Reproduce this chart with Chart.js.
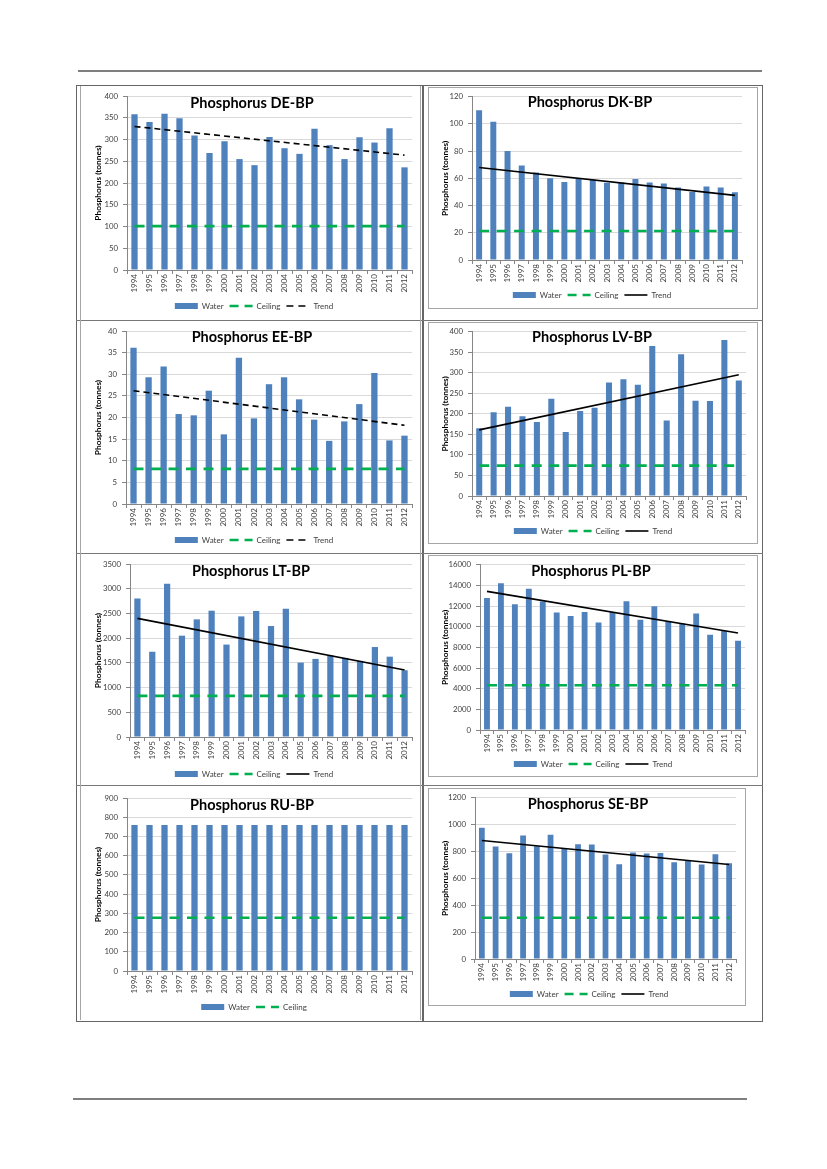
<!DOCTYPE html>
<html><head><meta charset="utf-8">
<script src="https://cdn.jsdelivr.net/npm/chart.js@4.4.1/dist/chart.umd.min.js"></script>
<style>
html,body{margin:0;padding:0;background:#fff;}
#page{position:relative;width:827px;height:1169px;overflow:hidden;font-family:Lato,"Open Sans",sans-serif;}
.ln{position:absolute;}
canvas{position:absolute;}
.ttl{position:absolute;width:220px;text-align:center;font-family:Lato,sans-serif;font-weight:bold;font-size:14.5px;color:#000;line-height:16px;white-space:nowrap;}
</style></head><body><div id="page"></div>
<script>
const years = ['1994','1995','1996','1997','1998','1999','2000','2001','2002','2003','2004','2005','2006','2007','2008','2009','2010','2011','2012'];

const deWater   = [358, 340, 359, 349, 309, 269, 296, 255, 241, 306, 280, 267, 325, 287, 255, 305, 293, 326, 236];
const deCeiling = [101, 101, 101, 101, 101, 101, 101, 101, 101, 101, 101, 101, 101, 101, 101, 101, 101, 101, 101];
const deTrend   = [330, null, null, null, null, null, null, null, null, null, null, null, null, null, null, null, null, null, 264];

const dkWater   = [110, 101.5, 80, 69.5, 64.3, 60, 57.3, 59.7, 59, 56.7, 57, 59.5, 57, 56.3, 53.3, 50, 54, 53.3, 49.7];
const dkCeiling = [21.3, 21.3, 21.3, 21.3, 21.3, 21.3, 21.3, 21.3, 21.3, 21.3, 21.3, 21.3, 21.3, 21.3, 21.3, 21.3, 21.3, 21.3, 21.3];
const dkTrend   = [68, null, null, null, null, null, null, null, null, null, null, null, null, null, null, null, null, null, 47.5];

const eeWater   = [36.1, 29.3, 31.8, 20.8, 20.5, 26.2, 16.1, 33.8, 19.8, 27.7, 29.3, 24.2, 19.5, 14.6, 19.1, 23.1, 30.3, 14.7, 15.8];
const eeCeiling = [8.1, 8.1, 8.1, 8.1, 8.1, 8.1, 8.1, 8.1, 8.1, 8.1, 8.1, 8.1, 8.1, 8.1, 8.1, 8.1, 8.1, 8.1, 8.1];
const eeTrend   = [26.2, null, null, null, null, null, null, null, null, null, null, null, null, null, null, null, null, null, 18.2];

const lvWater   = [165, 204, 217, 194, 180, 237, 156, 207, 215, 276, 284, 271, 365, 184, 345, 232, 231, 380, 281];
const lvCeiling = [74, 74, 74, 74, 74, 74, 74, 74, 74, 74, 74, 74, 74, 74, 74, 74, 74, 74, 74];
const lvTrend   = [161, null, null, null, null, null, null, null, null, null, null, null, null, null, null, null, null, null, 295];

const ltWater   = [2800, 1725, 3100, 2050, 2380, 2555, 1870, 2440, 2550, 2245, 2595, 1505, 1580, 1650, 1600, 1540, 1820, 1625, 1350];
const ltCeiling = [830, 830, 830, 830, 830, 830, 830, 830, 830, 830, 830, 830, 830, 830, 830, 830, 830, 830, 830];
const ltTrend   = [2400, null, null, null, null, null, null, null, null, null, null, null, null, null, null, null, null, null, 1355];

const plWater   = [12780, 14200, 12170, 13680, 12430, 11360, 11040, 11430, 10400, 11430, 12460, 10660, 11980, 10530, 10300, 11270, 9210, 9590, 8630];
const plCeiling = [4330, 4330, 4330, 4330, 4330, 4330, 4330, 4330, 4330, 4330, 4330, 4330, 4330, 4330, 4330, 4330, 4330, 4330, 4330];
const plTrend   = [13420, null, null, null, null, null, null, null, null, null, null, null, null, null, null, null, null, null, 9380];

const ruWater   = [760, 760, 760, 760, 760, 760, 760, 760, 760, 760, 760, 760, 760, 760, 760, 760, 760, 760, 760];
const ruCeiling = [277, 277, 277, 277, 277, 277, 277, 277, 277, 277, 277, 277, 277, 277, 277, 277, 277, 277, 277];

const seWater   = [977, 836, 787, 918, 839, 925, 821, 853, 851, 777, 705, 792, 784, 789, 720, 735, 703, 779, 712];
const seCeiling = [307, 307, 307, 307, 307, 307, 307, 307, 307, 307, 307, 307, 307, 307, 307, 307, 307, 307, 307];
const seTrend   = [881, null, null, null, null, null, null, null, null, null, null, null, null, null, null, null, null, null, 703];

const titles = ['Phosphorus DE-BP','Phosphorus DK-BP','Phosphorus EE-BP','Phosphorus LV-BP','Phosphorus LT-BP','Phosphorus PL-BP','Phosphorus RU-BP','Phosphorus SE-BP'];
const yTitle = 'Phosphorus (tonnes)';
const legendNames = ['Water','Ceiling','Trend'];
const yMaxes = [400, 120, 40, 400, 3500, 16000, 900, 1200];
const ySteps = [50, 20, 5, 50, 500, 2000, 100, 200];

const BLUE = '#4F81BD', GREEN = '#00B050', AXIS = '#868686', GRID = '#D9D9D9', TXT = '#404040';
Chart.defaults.font.family = 'Lato, "Open Sans", sans-serif';
const page = document.getElementById('page');

function line(x, y, w, h, c) {
  const d = document.createElement('div');
  d.className = 'ln';
  d.style.cssText = `left:${x}px;top:${y}px;width:${w}px;height:${h}px;background:${c}`;
  page.appendChild(d);
}
function rectBox(x, y, w, h, c) {
  const d = document.createElement('div');
  d.className = 'ln';
  d.style.cssText = `left:${x}px;top:${y}px;width:${w}px;height:${h}px;border:1px solid ${c};box-sizing:border-box`;
  page.appendChild(d);
}

// page rules and table
line(78, 70, 684, 1.5, '#7f7f7f');
line(73, 1098, 674, 1.5, '#7f7f7f');
rectBox(76, 85, 687, 937, '#666');
line(422, 85, 1.5, 937, '#666');
line(76, 320, 687, 1, '#777');
line(76, 553, 687, 1, '#777');
line(76, 785, 687, 1, '#777');
// left chart boxes (left/right edges)
line(80, 86, 1, 934, '#a6a6a6');
line(420, 86, 1, 934, '#a6a6a6');
// right chart boxes
rectBox(428, 87, 330, 222, '#a6a6a6');
rectBox(428, 322, 330, 222, '#a6a6a6');
rectBox(428, 555, 330, 222, '#a6a6a6');
rectBox(428, 788, 318, 218, '#a6a6a6');

function build(c) {
  const p = 6;
  const xH = c.legendY - 10 - c.plot.b;
  const H = c.legendY - c.box.y + 14;
  const padR = c.box.x + c.box.w - c.plot.r;
  const L = Math.round(2 * (c.legendX - c.box.x) - c.box.w + padR);
  const yW = c.plot.l - c.box.x - L;
  const tPad = c.yTitleX - c.box.x - L - 5;
  const cv = document.createElement('canvas');
  cv.width = c.box.w; cv.height = H;
  cv.style.left = c.box.x + 'px'; cv.style.top = c.box.y + 'px';
  cv.style.width = c.box.w + 'px'; cv.style.height = H + 'px';
  page.appendChild(cv);

  const datasets = [
    {type: 'bar', label: legendNames[0], data: c.water, backgroundColor: BLUE, barPercentage: 0.42, categoryPercentage: 1, order: 3},
    {type: 'line', label: legendNames[1], data: c.ceiling, borderColor: GREEN, borderWidth: 2.7, borderDash: [10, 7.5], pointRadius: 0, fill: false, order: 2}
  ];
  const legItems = [
    {text: legendNames[0], fillStyle: BLUE, strokeStyle: BLUE, lineWidth: 0, pointStyle: 'rect', hidden: false, fontColor: TXT},
    {text: legendNames[1], fillStyle: 'rgba(0,0,0,0)', strokeStyle: GREEN, lineWidth: 2.7, lineDash: [9, 6], pointStyle: 'line', hidden: false, fontColor: TXT}
  ];
  if (c.trend) {
    const dash = c.trendDash ? [6, 4] : [];
    datasets.push({type: 'line', label: legendNames[2], data: c.trend, borderColor: '#000', borderWidth: 1.6, borderDash: dash, pointRadius: 0, spanGaps: true, fill: false, order: 1});
    legItems.push({text: legendNames[2], fillStyle: 'rgba(0,0,0,0)', strokeStyle: '#000', lineWidth: 1.6, lineDash: c.trendDash ? [7, 5] : [], pointStyle: 'line', hidden: false, fontColor: TXT});
  }

  new Chart(cv, {
    data: {labels: years, datasets},
    options: {
      responsive: false, animation: false, devicePixelRatio: 1,
      layout: {padding: {top: c.plot.t - c.box.y, right: padR, bottom: 0, left: L}},
      plugins: {
        tooltip: {enabled: false},
        legend: {
          position: 'bottom',
          labels: {
            usePointStyle: true, pointStyleWidth: 23, boxHeight: 6, padding: p,
            font: {size: 8}, color: TXT,
            generateLabels: () => legItems
          }
        }
      },
      scales: {
        x: {
          type: 'category', offset: true,
          grid: {display: true, drawOnChartArea: false, drawTicks: true, tickLength: 4, tickColor: AXIS, offset: true},
          border: {display: true, color: AXIS, width: 1},
          ticks: {minRotation: 90, maxRotation: 90, autoSkip: false, font: {size: 8}, color: TXT, padding: 0},
          afterFit: s => { s.height = xH; }
        },
        y: {
          min: 0, max: c.yMax,
          grid: {color: GRID, tickLength: 4, tickColor: AXIS, drawTicks: true},
          border: {display: true, color: AXIS, width: 1},
          ticks: {stepSize: c.yStep, font: {size: 7.8}, color: TXT, padding: 5, callback: v => String(v)},
          title: {display: true, text: yTitle, font: {size: 8.3, weight: 'bold'}, color: '#000', padding: {top: tPad, bottom: 0}},
          afterFit: s => { s.width = yW; }
        }
      }
    }
  });

  const t = document.createElement('div');
  t.className = 'ttl';
  t.textContent = c.title;
  t.style.left = (c.titleX - 110) + 'px';
  t.style.top = (c.titleY - 8) + 'px';
  page.appendChild(t);
}

const LB = {x: 80, w: 342}, RB = {x: 428, w: 329};
build({title: titles[0], water: deWater, ceiling: deCeiling, trend: deTrend, trendDash: true, yMax: yMaxes[0], yStep: ySteps[0],
  box: {x: LB.x, y: 86, w: LB.w}, plot: {l: 127, t: 96, r: 412, b: 270}, legendY: 306, legendX: 254, yTitleX: 98.7, titleX: 252, titleY: 103});
build({title: titles[1], water: dkWater, ceiling: dkCeiling, trend: dkTrend, trendDash: false, yMax: yMaxes[1], yStep: ySteps[1],
  box: {x: RB.x, y: 87, w: RB.w}, plot: {l: 472, t: 96, r: 742, b: 260}, legendY: 295, legendX: 592, yTitleX: 445, titleX: 590, titleY: 102});
build({title: titles[2], water: eeWater, ceiling: eeCeiling, trend: eeTrend, trendDash: true, yMax: yMaxes[2], yStep: ySteps[2],
  box: {x: LB.x, y: 321, w: LB.w}, plot: {l: 126, t: 331, r: 412, b: 504}, legendY: 540, legendX: 254, yTitleX: 98.7, titleX: 252, titleY: 337});
build({title: titles[3], water: lvWater, ceiling: lvCeiling, trend: lvTrend, trendDash: false, yMax: yMaxes[3], yStep: ySteps[3],
  box: {x: RB.x, y: 322, w: RB.w}, plot: {l: 472, t: 331, r: 746, b: 496}, legendY: 531, legendX: 593, yTitleX: 445, titleX: 592, titleY: 337});
build({title: titles[4], water: ltWater, ceiling: ltCeiling, trend: ltTrend, trendDash: false, yMax: yMaxes[4], yStep: ySteps[4],
  box: {x: LB.x, y: 554, w: LB.w}, plot: {l: 130, t: 564, r: 412, b: 737}, legendY: 774, legendX: 254, yTitleX: 98.7, titleX: 251, titleY: 571});
build({title: titles[5], water: plWater, ceiling: plCeiling, trend: plTrend, trendDash: false, yMax: yMaxes[5], yStep: ySteps[5],
  box: {x: RB.x, y: 555, w: RB.w}, plot: {l: 480, t: 564, r: 745, b: 730}, legendY: 764, legendX: 593, yTitleX: 445, titleX: 591, titleY: 571});
build({title: titles[6], water: ruWater, ceiling: ruCeiling, trend: null, yMax: yMaxes[6], yStep: ySteps[6],
  box: {x: LB.x, y: 786, w: LB.w}, plot: {l: 127, t: 798, r: 412, b: 971}, legendY: 1007, legendX: 254, yTitleX: 98.7, titleX: 252, titleY: 805});
build({title: titles[7], water: seWater, ceiling: seCeiling, trend: seTrend, trendDash: false, yMax: yMaxes[7], yStep: ySteps[7],
  box: {x: RB.x, y: 788, w: 318}, plot: {l: 475, t: 797, r: 736, b: 959}, legendY: 994, legendX: 589, yTitleX: 445, titleX: 588, titleY: 804});
</script>
</body></html>
